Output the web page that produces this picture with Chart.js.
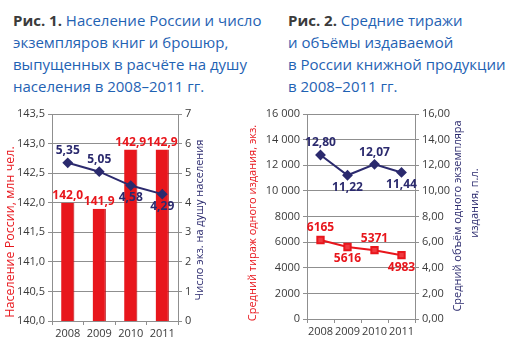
<!DOCTYPE html>
<html lang="ru">
<head>
<meta charset="utf-8">
<script src="https://cdn.jsdelivr.net/npm/chart.js@4"></script>
<style>
    html, body { margin: 0; padding: 0; background: #fff; }
    body { width: 515px; height: 348px; position: relative; overflow: hidden; font-family: 'Open Sans', sans-serif; }
    .titulo { position: absolute; top: 9px; font-size: 15px; line-height: 22px; color: #1f62b3; white-space: nowrap; }
    .titulo b { color: #3b3b3b; }
    #t1 { left: 13px; }
    #t2 { left: 288px; }
    #box1 { position: absolute; left: 0; top: 100px; width: 215px; height: 248px; }
    #box2 { position: absolute; left: 243px; top: 100px; width: 272px; height: 248px; }
</style>
</head>
<body>
<div class="titulo" id="t1"><b>Рис. 1.</b> Население России и число<br>экземпляров книг и брошюр,<br>выпущенных в расчёте на душу<br>населения в 2008–2011 гг.</div>
<div class="titulo" id="t2"><b>Рис. 2.</b> Средние тиражи<br>и объёмы издаваемой<br>в России книжной продукции<br>в 2008–2011 гг.</div>
<div id="box1"><canvas id="grafico1"></canvas></div>
<div id="box2"><canvas id="grafico2"></canvas></div>

<script>
// Datos
const anios = ['2008', '2009', '2010', '2011'];
const poblacion = [142.0, 141.9, 142.9, 142.9];      // млн чел.
const ejemplaresPorPersona = [5.35, 5.05, 4.58, 4.29];
const tiradaMedia = [6165, 5616, 5371, 4983];        // экз.
const volumenMedio = [12.80, 11.22, 12.07, 11.44];   // п.л.

const ROJO = '#e8161c';
const AZUL = '#2b2a6e';
const GRIS = '#8f8f8f';
const TEXTO = '#3a3a3a';

Chart.defaults.font.family = "'Open Sans', sans-serif";
Chart.defaults.font.size = 11;
Chart.defaults.color = TEXTO;

function coma(v, dec) {
    return v.toFixed(dec).replace('.', ',');
}

function miles(v) {
    // 16 000, 14 000 ... 8000 — как в оригинале
    if (v >= 10000) {
        return Math.floor(v / 1000) + ' ' + String(v % 1000).padStart(3, '0');
    }
    return String(v);
}

// Подписи значений над/под точками
const etiquetasPlugin = {
    id: 'etiquetas',
    afterDatasetsDraw(chart) {
        const ctx = chart.ctx;
        ctx.save();
        ctx.font = "bold 12px 'Open Sans', sans-serif";
        ctx.textAlign = 'center';
        ctx.textBaseline = 'middle';
        chart.data.datasets.forEach((ds, i) => {
            const meta = chart.getDatasetMeta(i);
            ctx.fillStyle = ds.colorEtiqueta;
            meta.data.forEach((el, j) => {
                const texto = ds.formato(ds.data[j]);
                let y;
                if (ds.type === 'bar') {
                    y = el.y - 7;
                } else {
                    y = ds.lado[j] === 'arriba' ? el.y - 12 : el.y + 12;
                }
                ctx.fillText(texto, el.x, y);
            });
        });
        ctx.restore();
    }
};

// Подписи осей (повёрнутые снизу вверх с обеих сторон)
const titulosEjesPlugin = {
    id: 'titulosEjes',
    afterDraw(chart, args, opts) {
        const ctx = chart.ctx;
        ctx.save();
        ctx.textAlign = 'center';
        ctx.textBaseline = 'middle';
        opts.items.forEach(it => {
            ctx.save();
            ctx.font = it.size + "px 'Open Sans', sans-serif";
            ctx.translate(it.x, it.y);
            ctx.rotate(-Math.PI / 2);
            ctx.fillStyle = it.color;
            ctx.fillText(it.text, 0, 0);
            ctx.restore();
        });
        ctx.restore();
    }
};

function ejeY(ancho, extra) {
    return Object.assign({
        afterFit(scale) { scale.width = ancho; },
        border: { color: GRIS, width: 1 },
        grid: { color: GRIS, tickLength: 4, tickColor: GRIS },
        ticks: { color: TEXTO, padding: 3 }
    }, extra);
}

function ejeX(alto) {
    return {
        afterFit(scale) { scale.height = alto; },
        offset: true,
        border: { color: GRIS, width: 1 },
        grid: { offset: true, drawOnChartArea: false, tickLength: 4, tickColor: GRIS },
        ticks: { color: TEXTO, padding: 2, autoSkip: false, maxRotation: 0, minRotation: 0, font: { size: 11 } }
    };
}

// Рис. 1
new Chart(document.getElementById('grafico1'), {
    data: {
        labels: anios,
        datasets: [{
            type: 'line',
            data: ejemplaresPorPersona,
            yAxisID: 'y1',
            borderColor: AZUL,
            backgroundColor: AZUL,
            borderWidth: 2,
            pointStyle: 'rectRot',
            pointRadius: 4,
            tension: 0,
            colorEtiqueta: AZUL,
            lado: ['arriba', 'arriba', 'abajo', 'abajo'],
            formato: v => coma(v, 2),
            order: 0
        }, {
            type: 'bar',
            data: poblacion,
            yAxisID: 'y',
            backgroundColor: ROJO,
            borderColor: '#b50f14',
            borderWidth: { left: 0, right: 1, top: 0, bottom: 0 },
            categoryPercentage: 1,
            barPercentage: 0.42,
            colorEtiqueta: ROJO,
            formato: v => coma(v, 1),
            order: 1
        }]
    },
    options: {
        responsive: true,
        maintainAspectRatio: false,
        animation: false,
        layout: { padding: { top: 14, right: 0, left: 0, bottom: 0 } },
        plugins: {
            legend: { display: false },
            tooltip: { enabled: false },
            titulosEjes: {
                items: [
                    { text: 'Население России, млн чел.', x: 10, y: 132, color: ROJO, size: 12.5 },
                    { text: 'Число экз. на душу населения', x: 200, y: 120, color: AZUL, size: 11 }
                ]
            }
        },
        scales: {
            x: ejeX(27),
            y: ejeY(52, {
                position: 'left',
                min: 140,
                max: 143.5,
                ticks: { stepSize: 0.5, color: TEXTO, padding: 3, callback: v => coma(v, 1) }
            }),
            y1: ejeY(37, {
                position: 'right',
                min: 0,
                max: 7,
                grid: { drawOnChartArea: false, tickLength: 4, tickColor: GRIS },
                ticks: { stepSize: 1, color: TEXTO, padding: 3 }
            })
        }
    },
    plugins: [etiquetasPlugin, titulosEjesPlugin]
});

// Рис. 2
new Chart(document.getElementById('grafico2'), {
    type: 'line',
    data: {
        labels: anios,
        datasets: [{
            data: volumenMedio,
            yAxisID: 'y1',
            borderColor: AZUL,
            backgroundColor: AZUL,
            borderWidth: 2,
            pointStyle: 'rectRot',
            pointRadius: 4,
            tension: 0,
            colorEtiqueta: AZUL,
            lado: ['arriba', 'abajo', 'arriba', 'abajo'],
            formato: v => coma(v, 2)
        }, {
            data: tiradaMedia,
            yAxisID: 'y',
            borderColor: ROJO,
            backgroundColor: '#f03a40',
            borderWidth: 2,
            pointStyle: 'rect',
            pointRadius: 4.5,
            pointBorderColor: ROJO,
            tension: 0,
            colorEtiqueta: ROJO,
            lado: ['arriba', 'abajo', 'arriba', 'abajo'],
            formato: v => String(v)
        }]
    },
    options: {
        responsive: true,
        maintainAspectRatio: false,
        animation: false,
        layout: { padding: { top: 14, right: 0, left: 0, bottom: 0 } },
        plugins: {
            legend: { display: false },
            tooltip: { enabled: false },
            titulosEjes: {
                items: [
                    { text: 'Средний тираж одного издания, экз.', x: 10, y: 123, color: ROJO, size: 11 },
                    { text: 'Средний объём одного экземпляра', x: 215, y: 116, color: AZUL, size: 11 },
                    { text: 'издания, п.л.', x: 232, y: 103, color: AZUL, size: 11 }
                ]
            }
        },
        scales: {
            x: ejeX(29),
            y: ejeY(64, {
                position: 'left',
                min: 0,
                max: 16000,
                ticks: { stepSize: 2000, color: TEXTO, padding: 3, callback: v => miles(v) }
            }),
            y1: ejeY(100, {
                position: 'right',
                min: 0,
                max: 16,
                grid: { drawOnChartArea: false, tickLength: 4, tickColor: GRIS },
                ticks: { stepSize: 2, color: TEXTO, padding: 3, callback: v => coma(v, 2) }
            })
        }
    },
    plugins: [etiquetasPlugin, titulosEjesPlugin]
});
</script>
</body>
</html>
